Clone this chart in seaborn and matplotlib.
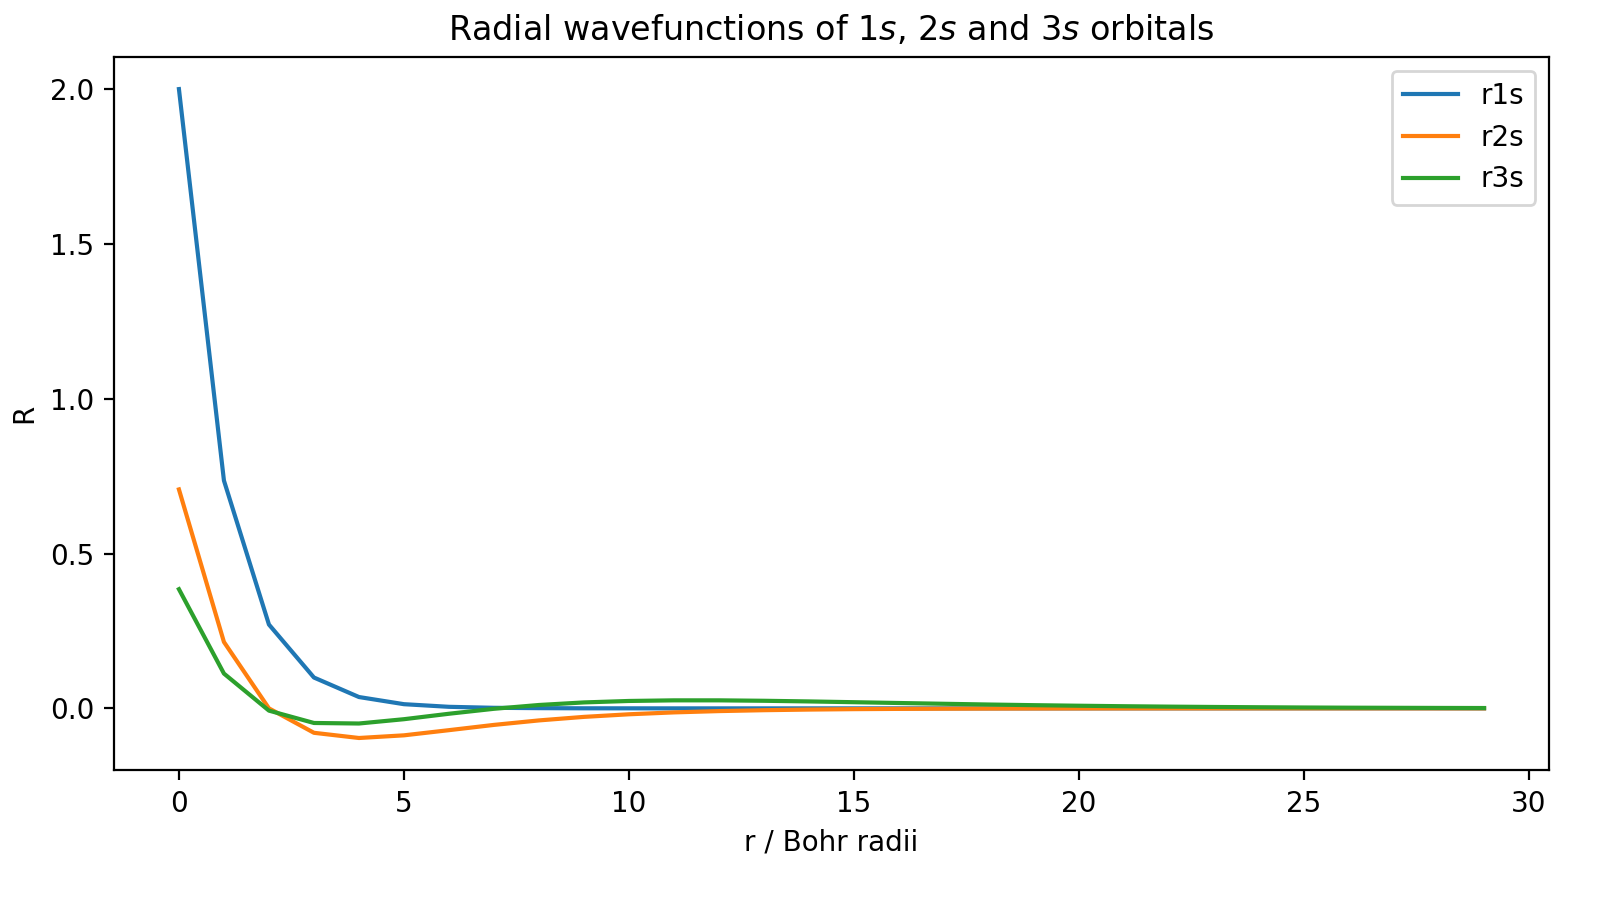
import numpy as np
import pandas as pd
import matplotlib
matplotlib.use("Agg")
import matplotlib.pyplot as plt
import seaborn as sns

# === Data (r = 0..29 Bohr radii) ===
r = list(range(30))
r1s = [2.0, 0.7358, 0.2707, 0.0996, 0.0366, 0.0135, 0.0050, 0.0018, 0.0007, 0.0002,
       0.0001] + [0.0] * 19
r2s = [0.7071, 0.2144, 0.0, -0.0789, -0.0957, -0.0871, -0.0704, -0.0534, -0.0389, -0.0275,
       -0.0191, -0.0130, -0.0088, -0.0059, -0.0039, -0.0025, -0.0017, -0.0011, -0.0007, -0.0005,
       -0.0003, -0.0002, -0.0001, -0.0001, 0.0, 0.0, 0.0, 0.0, 0.0, 0.0]
r3s = [0.3849, 0.1124, -0.0073, -0.0472, -0.0489, -0.0350, -0.0174, -0.0014, 0.0109, 0.0192,
       0.0239, 0.0259, 0.0259, 0.0245, 0.0224, 0.0199, 0.0173, 0.0148, 0.0124, 0.0103,
       0.0085, 0.0069, 0.0056, 0.0045, 0.0036, 0.0028, 0.0022, 0.0018, 0.0014, 0.0011]

df = pd.DataFrame({"r": r, "r1s": r1s, "r2s": r2s, "r3s": r3s})
long = df.melt(id_vars="r", var_name="orbital", value_name="R")

# plain matplotlib look (black text, no grid)
plt.style.use("default")
plt.rcParams["font.family"] = ["DejaVu Sans"]

fig, ax = plt.subplots(figsize=(8.12, 4.495), dpi=200)
sns.lineplot(data=long, x="r", y="R", hue="orbital", ax=ax, linewidth=1.5)
ax.set_title("Radial wavefunctions of 1$s$, 2$s$ and 3$s$ orbitals")
ax.set_xlabel("r / Bohr radii")
ax.set_ylabel("R")
ax.set_xticks([0, 5, 10, 15, 20, 25, 30])
ax.set_yticks([0.0, 0.5, 1.0, 1.5, 2.0])
ax.legend(title=None, loc="upper right")
fig.subplots_adjust(left=0.07, right=0.954, top=0.937, bottom=0.143)
fig.savefig("out.png")
